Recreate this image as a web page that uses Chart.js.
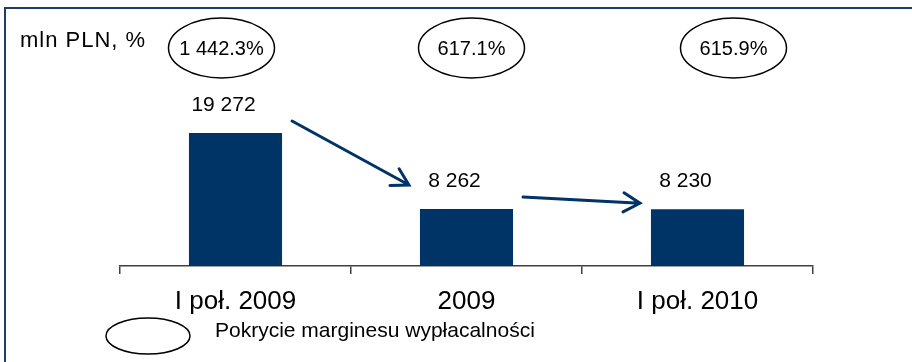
<!DOCTYPE html>
<html>
<head>
<meta charset="utf-8">
<script src="https://cdn.jsdelivr.net/npm/chart.js@4"></script>
<style>
  html, body { margin: 0; padding: 0; background: #fff; }
  #wrap { width: 912px; height: 362px; position: relative; }
</style>
</head>
<body>
<div id="wrap"><canvas id="solv"></canvas></div>
<script>
// surplus of own funds (mln PLN) and solvency margin coverage (%)
const periods = ['I poł. 2009', '2009', 'I poł. 2010'];
const surplus = [19272, 8262, 8230];
const coverage = [1442.3, 617.1, 615.9];

// hand tweaks for the ovals and arrows
const ovalShift = [-14, 5, 36];
const arrowLift = [[12, 24], [12, 6]];

const navy = '#003366';
const frameBlue = '#1f3d6b';
const font = "'Liberation Sans', Arial, sans-serif";

function spaced(n, dec) {
  const parts = n.toFixed(dec).split('.');
  parts[0] = parts[0].replace(/\B(?=(\d{3})+(?!\d))/g, ' ');
  return parts.join('.');
}

function arrow(ctx, x1, y1, x2, y2) {
  const a = Math.atan2(y2 - y1, x2 - x1);
  const len = 19, spread = Math.PI / 6;
  ctx.beginPath();
  ctx.moveTo(x1, y1);
  ctx.lineTo(x2, y2);
  ctx.moveTo(x2 - len * Math.cos(a - spread), y2 - len * Math.sin(a - spread));
  ctx.lineTo(x2, y2);
  ctx.lineTo(x2 - len * Math.cos(a + spread), y2 - len * Math.sin(a + spread));
  ctx.stroke();
}

function oval(ctx, cx, cy, rx, ry) {
  ctx.beginPath();
  ctx.ellipse(cx, cy, rx, ry, 0, 0, Math.PI * 2);
  ctx.stroke();
}

const extras = {
  id: 'extras',
  beforeDraw(chart) {
    const { ctx, width, height } = chart;
    ctx.save();
    ctx.fillStyle = '#fff';
    ctx.fillRect(0, 0, width, height);
    ctx.restore();
  },
  afterDatasetsDraw(chart) {
    const { ctx } = chart;
    const bars = chart.getDatasetMeta(0).data;
    const xs = chart.scales.x;
    ctx.save();

    // value labels
    ctx.fillStyle = '#000';
    ctx.font = '21px ' + font;
    ctx.textAlign = 'center';
    ctx.textBaseline = 'middle';
    bars.forEach((b, i) => {
      ctx.fillText(spaced(surplus[i], 0), b.x - 12, b.y - 28);
    });

    // arrows between bars
    ctx.strokeStyle = navy;
    ctx.lineWidth = 3;
    ctx.lineCap = 'round';
    for (let i = 0; i < bars.length - 1; i++) {
      const a = bars[i], b = bars[i + 1];
      arrow(ctx,
        a.x + a.width / 2 + 10, a.y - arrowLift[i][0],
        b.x - b.width / 2 - 11, b.y - arrowLift[i][1]);
    }

    // coverage ovals
    ctx.strokeStyle = '#000';
    ctx.lineWidth = 1.5;
    ctx.font = '20px ' + font;
    coverage.forEach((v, i) => {
      const cx = xs.getPixelForValue(i) + ovalShift[i];
      oval(ctx, cx, 48, 53, 30);
      ctx.fillText(spaced(v, 1) + '%', cx, 49);
    });

    // unit label
    ctx.textAlign = 'left';
    ctx.font = '22px ' + font;
    ctx.letterSpacing = '1px';
    ctx.fillText('mln PLN, %', 20, 41);
    ctx.letterSpacing = '0px';

    // legend
    oval(ctx, 148, 336, 42, 18);
    ctx.font = '21px ' + font;
    ctx.fillText('Pokrycie marginesu wypłacalności', 215, 331);

    // frame
    ctx.strokeStyle = frameBlue;
    ctx.lineWidth = 2;
    ctx.lineCap = 'butt';
    ctx.beginPath();
    ctx.moveTo(5, chart.height);
    ctx.lineTo(5, 8);
    ctx.lineTo(chart.width, 8);
    ctx.stroke();
    ctx.restore();
  }
};

new Chart(document.getElementById('solv'), {
  type: 'bar',
  data: {
    labels: periods,
    datasets: [{
      data: surplus,
      backgroundColor: navy,
      categoryPercentage: 1,
      barPercentage: 0.403
    }]
  },
  options: {
    responsive: true,
    maintainAspectRatio: false,
    animation: false,
    layout: { padding: { left: 120, right: 99, top: 59, bottom: 0 } },
    plugins: { legend: { display: false }, tooltip: { enabled: false } },
    scales: {
      x: {
        afterFit(scale) { scale.height = 96; },
        border: { color: '#404040', width: 1.5 },
        grid: { offset: true, drawOnChartArea: false, tickLength: 8, color: '#404040', lineWidth: 1.5 },
        ticks: { color: '#000', font: { family: font, size: 26 }, padding: 12 }
      },
      y: { display: false, min: 0, max: 30000 }
    }
  },
  plugins: [extras]
});
</script>
</body>
</html>
